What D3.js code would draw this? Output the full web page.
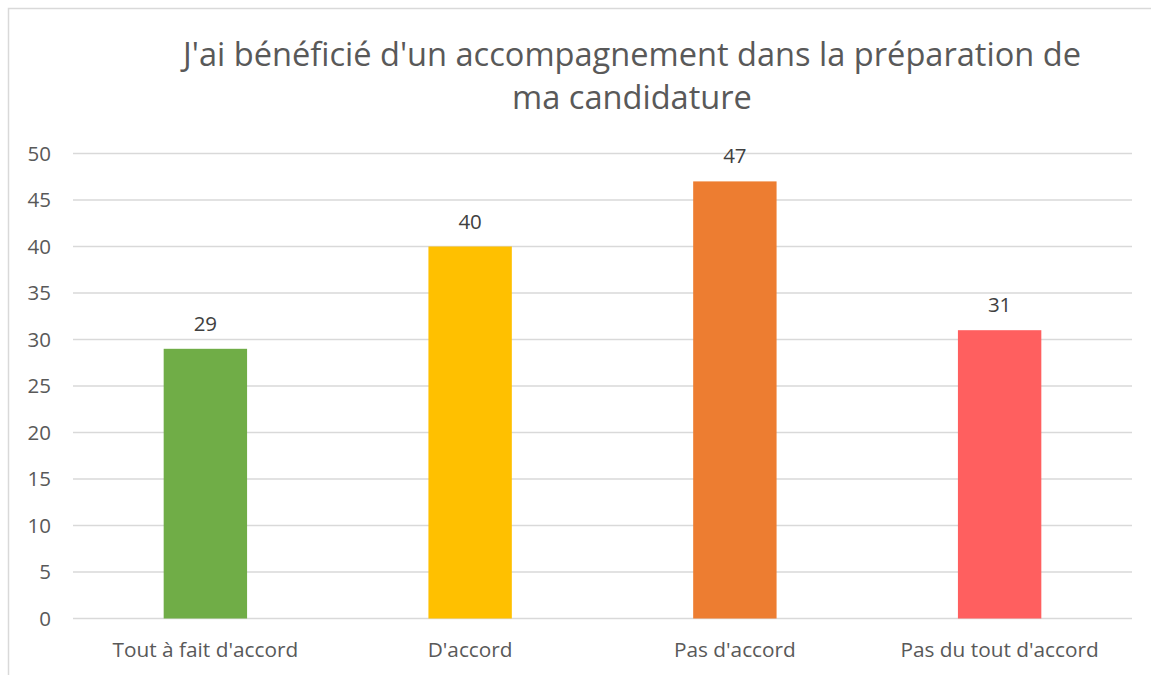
<!DOCTYPE html>
<html><head><meta charset="utf-8">
<script src="https://cdn.jsdelivr.net/npm/d3@7"></script>
<style>body{margin:0;background:#fff}svg{display:block}</style>
</head><body>
<script>
const titleLines = ["J'ai bénéficié d'un accompagnement dans la préparation de", "ma candidature"];
const categories = ["Tout à fait d'accord", "D'accord", "Pas d'accord", "Pas du tout d'accord"];
const values = [29, 40, 47, 31];
const colors = ["#70ad47", "#ffc000", "#ed7d31", "#ff5f5f"];
const yTicks = [0, 5, 10, 15, 20, 25, 30, 35, 40, 45, 50];

const W = 1151, H = 675;
const font = "'Open Sans', sans-serif";
const svg = d3.select("body").append("svg").attr("width", W).attr("height", H);

svg.append("rect").attr("x", 8.5).attr("y", 8.5).attr("width", W + 20).attr("height", H + 20)
  .attr("fill", "#fff").attr("stroke", "#d9d9d9").attr("stroke-width", 1.5);

const x = d3.scaleBand().domain(categories).range([73, 1132]).paddingInner(0.685).paddingOuter(0.3425);
const y = d3.scaleLinear().domain([0, 50]).range([618.5, 153.5]);

svg.append("g").selectAll("line").data(yTicks).join("line")
  .attr("x1", 73).attr("x2", 1132).attr("y1", d => y(d)).attr("y2", d => y(d))
  .attr("stroke", "#d9d9d9").attr("stroke-width", 1.5);

svg.append("g").selectAll("text").data(yTicks).join("text")
  .attr("x", 51).attr("y", d => y(d)).attr("dy", "0.36em").attr("text-anchor", "end")
  .attr("font-family", font).attr("font-size", 20.5).attr("fill", "#595959").text(d => d);

svg.append("g").selectAll("rect").data(values).join("rect")
  .attr("x", (d, i) => x(categories[i])).attr("width", x.bandwidth())
  .attr("y", d => y(d)).attr("height", d => y(0) - y(d))
  .attr("fill", (d, i) => colors[i]);

svg.append("g").selectAll("text").data(values).join("text")
  .attr("x", (d, i) => x(categories[i]) + x.bandwidth() / 2).attr("y", d => y(d) - 18)
  .attr("text-anchor", "middle").attr("font-family", font).attr("font-size", 20.5)
  .attr("fill", "#404040").text(d => d);

svg.append("g").selectAll("text").data(categories).join("text")
  .attr("x", d => x(d) + x.bandwidth() / 2).attr("y", 657)
  .attr("text-anchor", "middle").attr("font-family", font).attr("font-size", 20.8)
  .attr("fill", "#595959").text(d => d);

svg.append("g").selectAll("text").data(titleLines).join("text")
  .attr("x", 632).attr("y", (d, i) => 66 + i * 43)
  .attr("text-anchor", "middle").attr("font-family", font).attr("font-size", 32.6)
  .attr("fill", "#595959").text(d => d);
</script>
</body></html>
